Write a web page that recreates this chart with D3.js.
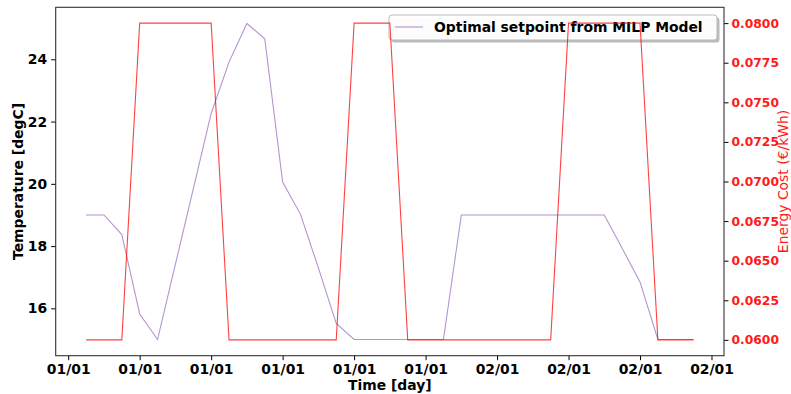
<!DOCTYPE html>
<html>
<head>
<meta charset="utf-8">
<script src="https://cdn.jsdelivr.net/npm/d3@7"></script>
<style>
  body { margin: 0; background: #fff; }
  svg { display: block; font-family: "DejaVu Sans", sans-serif; }
</style>
</head>
<body>
<svg id="chart" width="791" height="394"></svg>
<script>
// ---- data ----
const hours = [1,2,3,4,5,6,7,8,9,10,11,12,13,14,15,16,17,18,19,20,21,22,23,24,25,26,27,28,29,30,31,32,33,34,35];
const setpoint = [19,19,18.37,15.82,15.0,17.42,19.84,22.26,23.91,25.15,24.66,20.06,19.02,17.3,15.52,
                  15,15,15,15,15,15,
                  19,19,19,19,19,19,19,19,19,
                  17.93,16.85,15,15,15];
const cost = [0.06,0.06,0.06,
              0.08,0.08,0.08,0.08,0.08,
              0.06,0.06,0.06,0.06,0.06,0.06,0.06,
              0.08,0.08,0.08,
              0.06,0.06,0.06,0.06,0.06,0.06,0.06,0.06,0.06,
              0.08,0.08,0.08,0.08,0.08,
              0.06,0.06,0.06];
const leftTicks = [16,18,20,22,24];
const rightTicks = [0.06,0.0625,0.065,0.0675,0.07,0.0725,0.075,0.0775,0.08];
const legendLabel = "Optimal setpoint from MILP Model";
const xLabel = "Time [day]";
const yLabel = "Temperature [degC]";
const y2Label = "Energy Cost (€/kWh)";

// ---- layout ----
const L = 55.7, R = 724, T = 7.3, B = 355.7;
const svg = d3.select("#chart");
const t0 = Date.UTC(2018, 0, 1, 0);
const toDate = h => new Date(t0 + h * 3600 * 1000);
const times = hours.map(toDate);

const x = d3.scaleUtc()
  .domain([toDate(hours[0] - 1.7), toDate(hours[hours.length - 1] + 1.7)])
  .range([L, R]);
const y = d3.scaleLinear().domain([14.48, 25.67]).range([B, T]);
const y2 = d3.scaleLinear().domain([0.059, 0.081]).range([B, T]);

const fontSize = 13.9;
const rightTickFont = 12.3;

// purple line (ax1)
const line1 = d3.line().x((d, i) => x(times[i])).y(d => y(d));
svg.append("path").datum(setpoint)
  .attr("d", line1).attr("fill", "none")
  .attr("stroke", "#9467bd").attr("stroke-opacity", 0.7).attr("stroke-width", 1.1);

// axes
const xAxis = d3.axisBottom(x)
  .ticks(d3.utcHour.every(4))
  .tickFormat(d3.utcFormat("%d/%m"))
  .tickSize(4.5).tickPadding(4);
const gx = svg.append("g").attr("transform", `translate(0,${B})`).call(xAxis);
gx.select(".domain").remove();
gx.selectAll("text").attr("font-size", fontSize).attr("font-weight", "bold")
  .attr("font-family", "DejaVu Sans").attr("fill", "#000");
gx.selectAll("line").attr("stroke", "#000");

const yAxis = d3.axisLeft(y).tickValues(leftTicks).tickFormat(d3.format("d")).tickSize(4.5).tickPadding(4);
const gy = svg.append("g").attr("transform", `translate(${L},0)`).call(yAxis);
gy.select(".domain").remove();
gy.selectAll("text").attr("font-size", fontSize).attr("font-weight", "bold")
  .attr("font-family", "DejaVu Sans").attr("fill", "#000");
gy.selectAll("line").attr("stroke", "#000");

const y2Axis = d3.axisRight(y2).tickValues(rightTicks).tickFormat(d3.format(".4f")).tickSize(4.5).tickPadding(3);
const gy2 = svg.append("g").attr("transform", `translate(${R},0)`).call(y2Axis);
gy2.select(".domain").remove();
gy2.selectAll("text").attr("font-size", rightTickFont).attr("font-weight", "bold")
  .attr("font-family", "DejaVu Sans").attr("fill", "#ff1a1a");
gy2.selectAll("line").attr("stroke", "#000");

// legend (ax1)
const lg = svg.append("g");
const lx = 389, ly = 15, lw = 328, lh = 25;
lg.append("rect").attr("x", lx + 2.5).attr("y", ly + 2.5).attr("width", lw).attr("height", lh)
  .attr("rx", 3).attr("fill", "#777").attr("fill-opacity", 0.5);
lg.append("rect").attr("x", lx).attr("y", ly).attr("width", lw).attr("height", lh)
  .attr("rx", 3).attr("fill", "#fff").attr("fill-opacity", 0.95).attr("stroke", "#bbbbbb").attr("stroke-width", 1);
lg.append("line").attr("x1", 395).attr("x2", 423).attr("y1", 27).attr("y2", 27)
  .attr("stroke", "#9467bd").attr("stroke-opacity", 0.7).attr("stroke-width", 1.1);
lg.append("text").attr("x", 434).attr("y", 32).attr("font-size", fontSize)
  .attr("font-weight", "bold").attr("fill", "#000").text(legendLabel);

// red line (ax2, drawn above)
const line2 = d3.line().x((d, i) => x(times[i])).y(d => y2(d));
svg.append("path").datum(cost)
  .attr("d", line2).attr("fill", "none")
  .attr("stroke", "red").attr("stroke-opacity", 0.75).attr("stroke-width", 1.1);

// spines
svg.append("rect").attr("x", L).attr("y", T).attr("width", R - L).attr("height", B - T)
  .attr("fill", "none").attr("stroke", "#333").attr("stroke-width", 1.1);

// labels
svg.append("text").attr("x", (L + R) / 2).attr("y", 389.5).attr("text-anchor", "middle")
  .attr("font-size", fontSize).attr("font-weight", "bold").attr("fill", "#000").text(xLabel);
svg.append("text").attr("transform", `translate(23,${(T + B) / 2}) rotate(-90)`)
  .attr("text-anchor", "middle").attr("font-size", fontSize).attr("font-weight", "bold")
  .attr("fill", "#000").text(yLabel);
svg.append("text").attr("transform", `translate(788,${(T + B) / 2}) rotate(-90)`)
  .attr("text-anchor", "middle").attr("font-size", fontSize)
  .attr("fill", "#ff1a1a").text(y2Label);
</script>
</body>
</html>
